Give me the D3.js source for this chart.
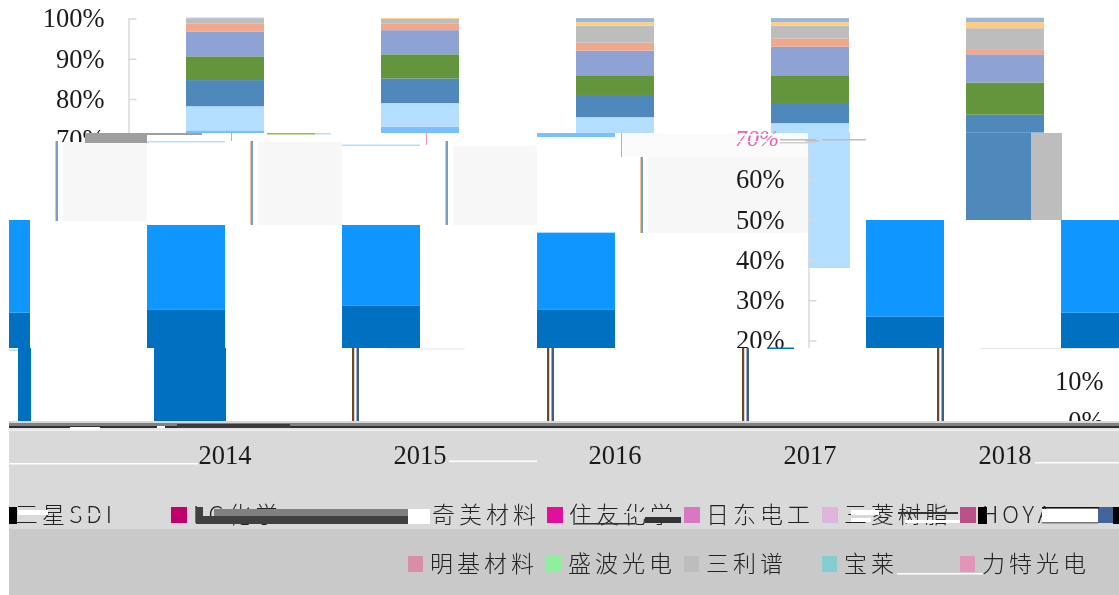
<!DOCTYPE html>
<html>
<head>
<meta charset="utf-8">
<script src="https://d3js.org/d3.v7.min.js"></script>
<style>
  html, body { margin: 0; padding: 0; background: #fff; }
  svg { display: block; filter: blur(0.45px); }
  .axis text { font-family: "Liberation Serif", serif; font-size: 26.5px; fill: #1a1a1a; }
  .legend text { font-family: "Noto Sans CJK SC", sans-serif; font-size: 23px; letter-spacing: 4px; fill: #222; font-weight: 300; }
</style>
</head>
<body>
<div id="chart"></div>
<script>
// Values, share in % per year, stack order bottom to top
const years = ["2014", "2015", "2016", "2017", "2018"];
const seriesKeys = ["dark", "bright", "mid", "lighter", "steel", "green", "peri", "salmon", "gray", "orange", "pale"];
const dark    = [25.9, 26.9, 27.6, 28.6, 27.6];
const bright  = [25.4, 24.4, 21.1, 20.1, 19.2];
const mid     = [20.9, 21.8, 20.9, 19.9, 24.9];
const lighter = [6.0, 5.9, 5.9, 5.4, 0];
const steel   = [6.5, 6.1, 5.5, 5.0, 4.4];
const green   = [5.9, 6.0, 4.9, 6.9, 8.0];
const peri    = [6.1, 6.0, 6.1, 7.1, 7.0];
const salmon  = [2.0, 1.7, 2.0, 2.0, 1.1];
const gray    = [1.3, 1.1, 4.2, 3.2, 5.4];
const orange  = [0, 0.2, 0.9, 0.9, 1.5];
const pale    = [0.2, 0, 1.0, 1.0, 1.1];
const seriesColors = ["#0070c0", "#1097ff", "#7abfff", "#b3deff", "#4f88bb", "#63963c", "#8fa2d4", "#f1a78a", "#bdbdbd", "#ffcc80", "#9bb7d9"];
const topTicks = [70, 80, 90, 100];
const midTicks = [20, 30, 40, 50, 60];
const lowTicks = [0, 10];

const legendTop = ["LG化学", "住友化学", "日东电工", "三菱树脂", "HOYA"];
const legendTopColors = ["#c0006f", "#e0109a", "#d977c5", "#ddb5df", "#bc5088"];
const legendBottom = ["明基材料", "盛波光电", "三利谱", "宝莱", "力特光电"];
const legendBottomColors = ["#d88fa5", "#90ee9f", "#bdbdbd", "#85cdd2", "#e295b9"];

const W = 1119, H = 595;
const wrap = 1109; // the damaged rows wrap round over this width

const table = years.map((y, i) => ({
  year: y, dark: dark[i], bright: bright[i], mid: mid[i], lighter: lighter[i], steel: steel[i],
  green: green[i], peri: peri[i], salmon: salmon[i], gray: gray[i], orange: orange[i], pale: pale[i]
}));

const svg = d3.select("#chart").append("svg").attr("width", W).attr("height", H);
const defs = svg.append("defs");

const x = d3.scaleBand().domain(years).range([127.5, 1102.5]).paddingInner(0.6).paddingOuter(0.3);
const y = d3.scaleLinear().domain([0, 100]).range([421, 18.5]);
const stacked = d3.stack().keys(seriesKeys)(table);

// clipped group, every damaged band of the picture is one of these
let clipCount = 0;
function band(cx, cy, cw, ch) {
  const id = "clip" + (clipCount++);
  defs.append("clipPath").attr("id", id).append("rect")
    .attr("x", cx).attr("y", cy).attr("width", cw).attr("height", ch);
  return svg.append("g").attr("clip-path", `url(#${id})`);
}

function drawBars(g, dx, count) {
  g.append("g")
    .attr("transform", `translate(${dx},0)`)
    .selectAll("g")
    .data(stacked.slice(0, count))
    .enter()
    .append("g")
    .attr("fill", (d, i) => seriesColors[i])
    .selectAll("rect")
    .data(d => d)
    .enter()
    .append("rect")
    .attr("x", d => x(d.data.year))
    .attr("y", d => y(d[1]))
    .attr("width", x.bandwidth())
    .attr("height", d => y(d[0]) - y(d[1]));
}

function drawAxis(g, dx, ticks) {
  const a = g.append("g")
    .attr("class", "axis")
    .attr("transform", `translate(${128.5 + dx},0)`)
    .call(d3.axisLeft(y).tickValues(ticks).tickFormat(d => d + "%").tickSizeInner(-8).tickSizeOuter(0).tickPadding(24));
  a.selectAll("path, line").attr("stroke", "#d9d9d9").attr("stroke-width", 1.5);
}

function patch(px, py, pw, ph, fill) {
  svg.append("rect").attr("x", px).attr("y", py).attr("width", pw).attr("height", ph).attr("fill", fill);
}

// Top of the chart, still intact
drawBars(band(0, 0, W, 133), 0, seriesKeys.length);
drawAxis(band(0, 0, 128, 142), 0, topTicks);
drawAxis(band(128, 0, 20, 133), 0, topTicks);

// Smeared pieces of the 2017 and 2018 bars
patch(x("2017") + 37, 132.5, 42, 135.5, seriesColors[3]);
patch(x("2018"), 132.5, 65, 87.5, seriesColors[4]);
patch(x("2018") + 65, 133, 31, 87, seriesColors[8]);

// Pale boxes left of each shifted bar, they end on the top of the next bar
const boxTop = [142, 142, 146, 157];
const boxBottom = [221, 225, 225, 233];
const boxLeft = [63, 258, 453, 648];
const boxRight = [147, 342, 537, 808];
boxLeft.forEach((bx, i) => {
  patch(bx, boxTop[i], boxRight[i] - bx, boxBottom[i] - boxTop[i], "#f7f7f7");
  patch(bx - 8, 141, 1, boxBottom[i] - 141, "#e8c99a");
  patch(bx - 7, 141, 2, boxBottom[i] - 141, "#7f9cc8");
});
patch(147, 133, 55, 2, "#9e9e9e");
patch(85, 133, 62, 10, "#9e9e9e");
patch(147, 141, 78, 1.5, seriesColors[3]);
patch(342, 144.5, 78, 1.5, seriesColors[3]);
patch(537, 133, 78, 4, seriesColors[2]);
patch(267, 133, 48, 1.5, "#8bc34a");
patch(315, 133, 16, 1.5, seriesColors[3]);
patch(231, 133, 1, 8, "#f48fc8");
patch(426, 133, 1, 12, "#f48fc8");
patch(621, 133, 1, 24, "#f48fc8");
patch(622, 133, 186, 24, "#fbfbfb");

// Middle rows are shifted sideways and wrap round
const midBars = band(9, 220, W - 9, 128);
drawBars(midBars, 680, 2);
drawBars(midBars, 680 - wrap, 2);
drawAxis(band(725, 149, 100, 199), 680, midTicks);

// Damaged 70% label of the shifted axis
svg.append("text").attr("x", 735).attr("y", 146)
  .attr("font-family", "Liberation Serif, serif").attr("font-size", 24).attr("font-style", "italic")
  .attr("fill", "#e85fb5").text("70%");
patch(742, 134, 40, 1.5, "#ffffff");
patch(738, 141, 30, 1, "#ffffff");
patch(780, 139, 36, 1.5, "#bdbdbd");
patch(780, 142, 36, 1.5, "#cfcfcf");
patch(805, 140, 14, 1.5, "#bdbdbd");
patch(822, 139, 44, 1.5, "#bdbdbd");
patch(767, 347.5, 27, 1.5, "#0070c0");
patch(385, 348.5, 80, 1, "#e6e6e6");
patch(980, 348, 138, 1, "#e6e6e6");

// Lower rows: only the dark leftovers of the bars and the last axis labels
patch(x("2016") + 7 - 429, 348, 72, 73, seriesColors[0]);
patch(18, 348, 13, 73, seriesColors[0]);
patch(9, 349.5, 9, 1.5, seriesColors[3]);
years.slice(1).forEach(yr => {
  const sx = x(yr) - 110 + x.bandwidth() + 3;
  patch(sx, 348, 2.5, 74, "#6b4a2a");
  patch(sx + 2.5, 348, 2, 74, "#ffffff");
  patch(sx + 4.5, 348, 2.5, 74, "#3f5f8a");
});
drawAxis(band(1040, 360, 79, 61), 999, lowTicks);

// Grey ground below the chart
patch(9, 421, W - 9, 108, "#d9d9d9");
patch(9, 529, W - 9, 66, "#c9c9c9");
patch(9, 423, W - 9, 3, "#808080");
patch(9, 426, W - 9, 2, "#2f2f2f");
patch(177, 424, 113, 4, "#3b3b3b");
patch(9, 428, W - 9, 2, "#e4e4e4");
patch(70, 427, 30, 3, "#ffffff");
patch(157, 426, 8, 2, "#ffffff");
patch(9, 430, W - 9, 1, "#f2f2f2");

const xAxis = svg.append("g")
  .attr("class", "axis")
  .attr("transform", "translate(0,421)")
  .call(d3.axisBottom(x).tickSize(0).tickPadding(24));
xAxis.select(".domain").remove();

patch(9, 463, 189, 1.5, "#ffffff");
patch(449, 460.5, 88, 1.5, "#ffffff");
patch(1035, 462, 84, 1.5, "#ffffff");
patch(897, 573, 86, 1.5, "#ffffff");

// Legend, lower row is readable
const legendColumns = [408, 546, 684, 822, 960];
const legend = svg.append("g").attr("class", "legend");
legendBottom.forEach((name, i) => {
  legend.append("rect").attr("x", legendColumns[i]).attr("y", 556).attr("width", 15).attr("height", 16).attr("fill", legendBottomColors[i]);
  legend.append("text").attr("x", legendColumns[i] + 22).attr("y", 572).text(name);
});

// Upper legend row, scrambled in the reference
const topColumns = [171, 547, 684, 822, 960];
legendTop.forEach((name, i) => {
  legend.append("rect").attr("x", topColumns[i]).attr("y", 507).attr("width", 16).attr("height", 16).attr("fill", legendTopColors[i]);
  legend.append("text").attr("x", topColumns[i] + 22).attr("y", 523).text(name);
});
legend.append("text").attr("x", 15).attr("y", 523).text("三星SDI");
legend.append("text").attr("x", 432).attr("y", 523).text("奇美材料");
legend.append("rect").attr("x", 1098).attr("y", 507).attr("width", 15).attr("height", 16).attr("fill", "#44639b");

patch(9, 507, 8, 17, "#000000");
patch(1113, 507, 6, 17, "#000000");
patch(978, 507, 9, 17, "#000000");
patch(18, 510, 30, 5, "#ffffff");
patch(60, 513, 40, 3, "#d9d9d9");
patch(196, 516, 212, 8, "#404040");
patch(214, 509, 194, 7, "#808080");
patch(196, 507, 7, 17, "#404040");
patch(408, 509, 22, 15, "#ffffff");
patch(445, 514, 40, 2, "#d9d9d9");
patch(590, 511, 40, 2, "#d9d9d9");
patch(730, 514, 60, 2, "#d9d9d9");
patch(851, 510, 28, 5, "#ffffff");
patch(851, 518, 20, 4, "#ffffff");
patch(898, 512, 60, 2, "#333333");
patch(905, 520, 55, 3, "#ffffff");
patch(1042, 507, 57, 1.5, "#111111");
patch(1042, 509, 56, 13, "#ffffff");
patch(1042, 522, 56, 1.5, "#777777");
patch(575, 523, 60, 1.5, "#333333");
patch(635, 512, 44, 5, "#d9d9d9");
patch(645, 517, 36, 6, "#333333");
</script>
</body>
</html>
